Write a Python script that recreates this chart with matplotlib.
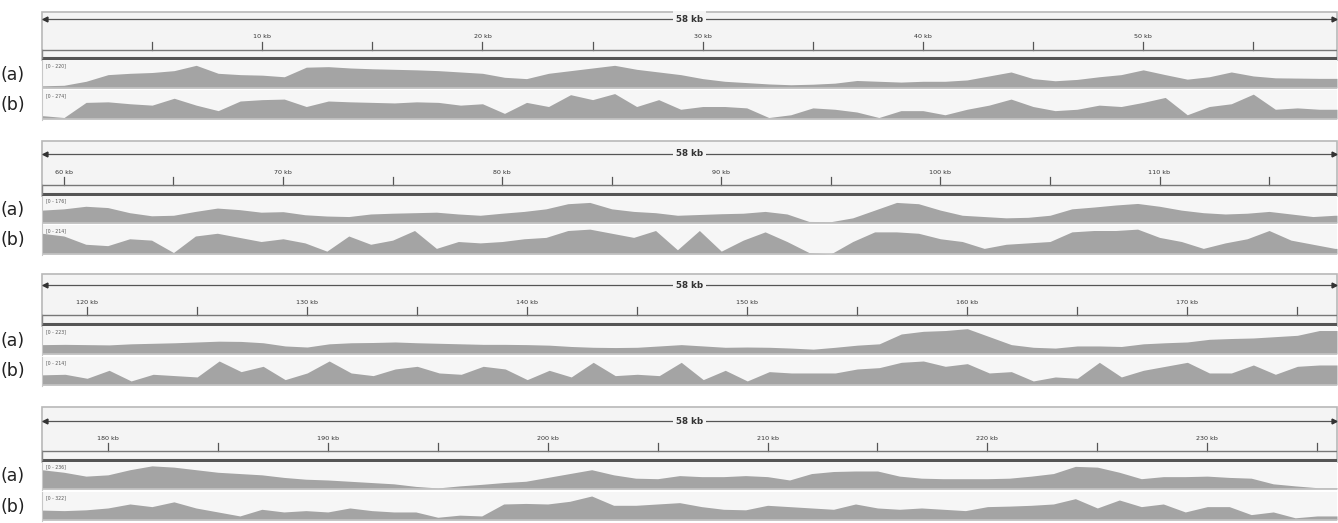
import numpy as np
import matplotlib
matplotlib.use("Agg")
import matplotlib.pyplot as plt
from matplotlib.patches import Rectangle

# ---------------- data ----------------
# coverage as a fraction of each track's data range, one value per kb
p1_first_kb = 0
p1_a = [0.08, 0.1, 0.25, 0.5, 0.55, 0.58, 0.65, 0.85, 0.55, 0.5, 0.48, 0.42, 0.78, 0.8, 0.75,
        0.72, 0.7, 0.68, 0.65, 0.6, 0.55, 0.4, 0.35, 0.55, 0.65, 0.75, 0.85, 0.7, 0.6, 0.5,
        0.35, 0.25, 0.2, 0.15, 0.12, 0.14, 0.18, 0.28, 0.25, 0.22, 0.25, 0.25, 0.3, 0.45, 0.6,
        0.35, 0.27, 0.32, 0.42, 0.5, 0.68, 0.5, 0.33, 0.42, 0.6, 0.45, 0.38, 0.37, 0.36]
p1_b = [0.12, 0.05, 0.6, 0.62, 0.55, 0.5, 0.75, 0.5, 0.3, 0.65, 0.7, 0.72, 0.45, 0.65, 0.62,
        0.6, 0.58, 0.62, 0.6, 0.5, 0.55, 0.2, 0.6, 0.45, 0.88, 0.7, 0.92, 0.45, 0.7, 0.35,
        0.45, 0.45, 0.4, 0.05, 0.15, 0.4, 0.35, 0.25, 0.05, 0.3, 0.3, 0.15, 0.35, 0.5, 0.72,
        0.45, 0.3, 0.35, 0.5, 0.45, 0.6, 0.78, 0.15, 0.45, 0.55, 0.9, 0.35, 0.4, 0.35]

p2_first_kb = 59
p2_a = [0.5, 0.55, 0.65, 0.6, 0.4, 0.28, 0.3, 0.45, 0.58, 0.52, 0.42, 0.44, 0.32, 0.27, 0.25,
        0.35, 0.38, 0.4, 0.42, 0.35, 0.3, 0.38, 0.45, 0.55, 0.75, 0.8, 0.55, 0.45, 0.4, 0.3,
        0.33, 0.36, 0.38, 0.45, 0.35, 0.06, 0.05, 0.2, 0.5, 0.8, 0.75, 0.5, 0.3, 0.25, 0.2,
        0.22, 0.3, 0.55, 0.62, 0.7, 0.76, 0.65, 0.5, 0.4, 0.35, 0.38, 0.45, 0.35, 0.25, 0.3]
p2_b = [0.75, 0.65, 0.35, 0.3, 0.55, 0.5, 0.05, 0.65, 0.75, 0.6, 0.45, 0.55, 0.4, 0.1, 0.65,
        0.35, 0.5, 0.85, 0.2, 0.45, 0.4, 0.45, 0.55, 0.6, 0.85, 0.9, 0.75, 0.6, 0.85, 0.15,
        0.85, 0.1, 0.5, 0.8, 0.45, 0.05, 0.0, 0.45, 0.8, 0.8, 0.75, 0.55, 0.45, 0.2, 0.35,
        0.4, 0.45, 0.8, 0.85, 0.85, 0.9, 0.6, 0.45, 0.2, 0.4, 0.55, 0.85, 0.5, 0.35, 0.2]

p3_first_kb = 118
p3_a = [0.35, 0.36, 0.35, 0.34, 0.38, 0.4, 0.42, 0.45, 0.48, 0.47, 0.42, 0.3, 0.26, 0.38, 0.42,
        0.43, 0.45, 0.42, 0.4, 0.38, 0.36, 0.36, 0.35, 0.33, 0.28, 0.25, 0.24, 0.25, 0.3, 0.35,
        0.3, 0.25, 0.26, 0.25, 0.22, 0.18, 0.25, 0.33, 0.38, 0.75, 0.85, 0.88, 0.95, 0.65, 0.35,
        0.25, 0.22, 0.3, 0.3, 0.28, 0.38, 0.42, 0.45, 0.55, 0.58, 0.6, 0.65, 0.7, 0.88]
p3_b = [0.38, 0.4, 0.25, 0.55, 0.15, 0.4, 0.35, 0.3, 0.9, 0.5, 0.7, 0.2, 0.45, 0.9, 0.45,
        0.35, 0.6, 0.7, 0.45, 0.4, 0.7, 0.6, 0.2, 0.55, 0.3, 0.85, 0.35, 0.4, 0.35, 0.85,
        0.2, 0.55, 0.15, 0.5, 0.45, 0.45, 0.45, 0.6, 0.65, 0.85, 0.9, 0.7, 0.8, 0.45, 0.5,
        0.15, 0.3, 0.25, 0.85, 0.3, 0.55, 0.7, 0.85, 0.45, 0.45, 0.75, 0.4, 0.7, 0.75]

p4_first_kb = 177
p4_a = [0.75, 0.65, 0.5, 0.55, 0.75, 0.9, 0.85, 0.75, 0.65, 0.6, 0.55, 0.45, 0.38, 0.35, 0.3,
        0.25, 0.2, 0.1, 0.04, 0.12, 0.18, 0.25, 0.3, 0.45, 0.6, 0.75, 0.55, 0.42, 0.4, 0.52,
        0.48, 0.48, 0.52, 0.48, 0.35, 0.6, 0.68, 0.7, 0.7, 0.5, 0.42, 0.4, 0.4, 0.4, 0.42,
        0.5, 0.6, 0.88, 0.85, 0.65, 0.4, 0.48, 0.48, 0.5, 0.45, 0.42, 0.2, 0.12, 0.05]
p4_b = [0.37, 0.35, 0.38, 0.45, 0.6, 0.5, 0.68, 0.45, 0.3, 0.15, 0.4, 0.3, 0.35, 0.3, 0.45,
        0.35, 0.3, 0.3, 0.1, 0.18, 0.15, 0.6, 0.62, 0.6, 0.7, 0.9, 0.55, 0.55, 0.6, 0.65,
        0.5, 0.4, 0.38, 0.55, 0.5, 0.45, 0.4, 0.6, 0.45, 0.4, 0.45, 0.4, 0.35, 0.5, 0.52,
        0.55, 0.6, 0.8, 0.45, 0.75, 0.5, 0.6, 0.3, 0.5, 0.5, 0.2, 0.3, 0.08, 0.15]

# data ranges shown in each track's corner label
range_a = [220, 176, 223, 236]
range_b = [274, 214, 214, 322]
# visible genomic window of each panel (kb)
windows = [(0.0, 58.8), (59.0, 118.1), (117.95, 176.8), (177.0, 235.9)]
span_label = "58 kb"
track_labels = ["(a)", "(b)"]

firsts = [p1_first_kb, p2_first_kb, p3_first_kb, p4_first_kb]
tracks_a = [p1_a, p2_a, p3_a, p4_a]
tracks_b = [p1_b, p2_b, p3_b, p4_b]

# ---------------- layout (pixels) ----------------
W, H = 1338, 523
X0, X1 = 42, 1337
# top, arrow_y, label_y, ruler_base, thick_line, a_top, a_bot, b_top, b_bot
layout = [
    (12, 19, 36, 50, 58, 60, 89, 90, 120),
    (141, 154, 172, 185, 194, 196, 224, 225, 255),
    (274, 285, 302, 315, 324, 326, 355, 357, 386),
    (407, 421, 438, 451, 460, 462, 490, 492, 521),
]

COV = "#a4a4a4"
TRACK_BG = "#f6f6f6"
BOX_BG = "#f4f4f4"
BORDER = "#b8b8b8"
DARK = "#555555"

fig = plt.figure(figsize=(W / 100, H / 100), dpi=100)
fig.patch.set_facecolor("white")


def add_ax(x0, y0, x1, y1):
    return fig.add_axes([x0 / W, 1 - y1 / H, (x1 - x0) / W, (y1 - y0) / H])


for i, (lo, hi) in enumerate(windows):
    top, ay, ly, base, thick, at, ab, bt, bb = layout[i]

    # ---- ruler ----
    ax = add_ax(X0, top, X1, thick + 2)
    ax.set_xlim(lo, hi)
    ax.set_ylim(thick + 2, top)
    ax.axis("off")
    ax.add_patch(Rectangle((lo, top), hi - lo, thick + 2 - top, facecolor=BOX_BG,
                           edgecolor=BORDER, lw=1.2, clip_on=False))
    mid = (lo + hi) / 2
    ax.plot([lo, hi], [ay, ay], color=DARK, lw=0.9, solid_capstyle="butt")
    ax.plot([lo + 0.15], [ay], marker="<", ms=3.5, color="#333333")
    ax.plot([hi - 0.15], [ay], marker=">", ms=3.5, color="#333333")
    ax.text(mid, ay, span_label, ha="center", va="center", fontsize=6.3,
            fontweight="bold", color="#333333", family="DejaVu Sans",
            bbox=dict(facecolor=BOX_BG, edgecolor="none", pad=2.2))
    t = np.ceil((lo + 0.5) / 5) * 5
    while t < hi - 0.5:
        ax.plot([t, t], [base - 8, base], color=DARK, lw=0.9)
        if int(round(t)) % 10 == 0:
            ax.text(t, ly, f"{int(round(t))} kb", ha="center", va="center",
                    fontsize=4.6, color="#333333")
        t += 5
    ax.plot([lo, hi], [base, base], color="#777777", lw=1.0)
    ax.plot([lo, hi], [thick, thick], color=DARK, lw=2.2)
    ax.plot([lo, lo], [base, thick], color="#888888", lw=1.0)

    # ---- coverage tracks ----
    for vals, rng, (ty0, ty1), lab in [
        (tracks_a[i], range_a[i], (at, ab), track_labels[0]),
        (tracks_b[i], range_b[i], (bt, bb), track_labels[1]),
    ]:
        tx = add_ax(X0, ty0, X1, ty1)
        kb = np.arange(firsts[i], firsts[i] + len(vals), dtype=float)
        depth = np.array(vals) * rng
        # extend the first / last reading to the window edges
        kb_e = np.r_[min(lo, kb[0]), kb, max(hi, kb[-1])]
        depth_e = np.r_[depth[0], depth, depth[-1]]
        tx.set_facecolor(TRACK_BG)
        tx.fill_between(kb_e, 0, depth_e, color=COV, lw=0)
        tx.set_xlim(lo, hi)
        tx.set_ylim(-rng * 0.04, rng * 1.05)
        tx.axhline(-rng * 0.02, color="#c4c4c4", lw=1.2)
        tx.set_xticks([])
        tx.set_yticks([])
        for s in ["top", "right", "bottom"]:
            tx.spines[s].set_visible(False)
        tx.spines["left"].set_color("#c8c8c8")
        tx.text(0.003, 0.9, f"[0 - {rng}]", transform=tx.transAxes, fontsize=3.3,
                color="#555555", va="top", ha="left")
        fig.text(1 / W, 1 - ((ty0 + ty1) / 2) / H, lab, fontsize=12.5,
                 family="DejaVu Sans", va="center", ha="left", color="#222222")

fig.savefig("out.png", dpi=100, facecolor="white")
